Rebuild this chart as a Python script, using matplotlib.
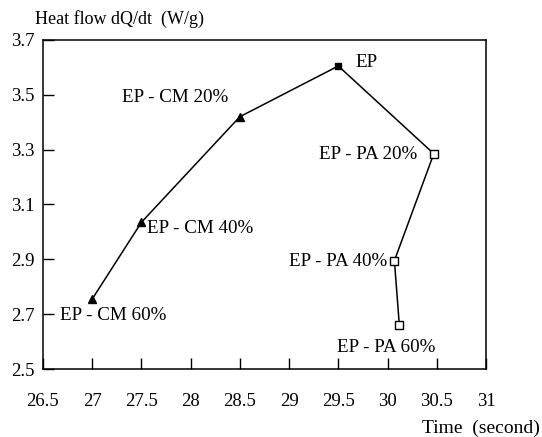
import matplotlib
matplotlib.use("Agg")
import matplotlib.pyplot as plt

plt.rcParams['font.family'] = ['Liberation Serif', 'DejaVu Serif']

# data
ep_x, ep_y = 29.5, 3.605
cm_x = [29.5, 28.5, 27.5, 27.0]
cm_y = [3.605, 3.42, 3.035, 2.755]
pa_x = [29.5, 30.47, 30.07, 30.12]
pa_y = [3.605, 3.285, 2.895, 2.66]

labels = ['EP', 'EP - CM 20%', 'EP - CM 40%', 'EP - CM 60%',
          'EP - PA 20%', 'EP - PA 40%', 'EP - PA 60%']
label_x = [ep_x, cm_x[1], cm_x[2], cm_x[3], pa_x[1], pa_x[2], pa_x[3]]
label_y = [ep_y, cm_y[1], cm_y[2], cm_y[3], pa_y[1], pa_y[2], pa_y[3]]
# offset (pixels) and alignment of each label
offsets = [(17, 3), (-65, 19), (6, -6), (-32, -16), (-17, -1), (-7, -1), (-13, -22)]
aligns = ['left', 'center', 'left', 'left', 'right', 'right', 'center']

xticks = [26.5, 27, 27.5, 28, 28.5, 29, 29.5, 30, 30.5, 31]
xticklabels = ['26.5', '27', '27.5', '28', '28.5', '29', '29.5', '30', '30.5', '31']
yticks = [2.5, 2.7, 2.9, 3.1, 3.3, 3.5, 3.7]

fig = plt.figure(figsize=(5.42, 4.37), dpi=100)
ax = fig.add_axes([0.0793, 0.1556, 0.8173, 0.753])

ax.plot(cm_x, cm_y, color='black', lw=1.1, marker='^', ms=6,
        mfc='black', mec='black', markevery=[1, 2, 3])
ax.plot(pa_x, pa_y, color='black', lw=1.1, marker='s', ms=5.5,
        mfc='white', mec='black', mew=1.0, markevery=[1, 2, 3])
ax.plot([ep_x], [ep_y], marker='s', ms=4.5, color='black', ls='none')

for txt, x, y, off, ha in zip(labels, label_x, label_y, offsets, aligns):
    ax.annotate(txt, xy=(x, y), xytext=off, textcoords='offset pixels',
                ha=ha, va='center', fontsize=13.7)

ax.set_xlim(26.5, 31)
ax.set_ylim(2.5, 3.7)
ax.set_xticks(xticks)
ax.set_xticklabels(xticklabels)
ax.set_yticks(yticks)
ax.tick_params(direction='in', length=8, width=1, labelsize=13.5)
ax.tick_params(axis='x', pad=17.5)
ax.tick_params(axis='y', pad=6)
for s in ax.spines.values():
    s.set_linewidth(1.1)

fig.text(35 / 542, 1 - 19 / 437, 'Heat flow dQ/dt  (W/g)', ha='left', va='center', fontsize=13)
fig.text(540 / 542, 1 - 428 / 437, 'Time  (second)', ha='right', va='center', fontsize=14)

fig.savefig('out.png', dpi=100)
